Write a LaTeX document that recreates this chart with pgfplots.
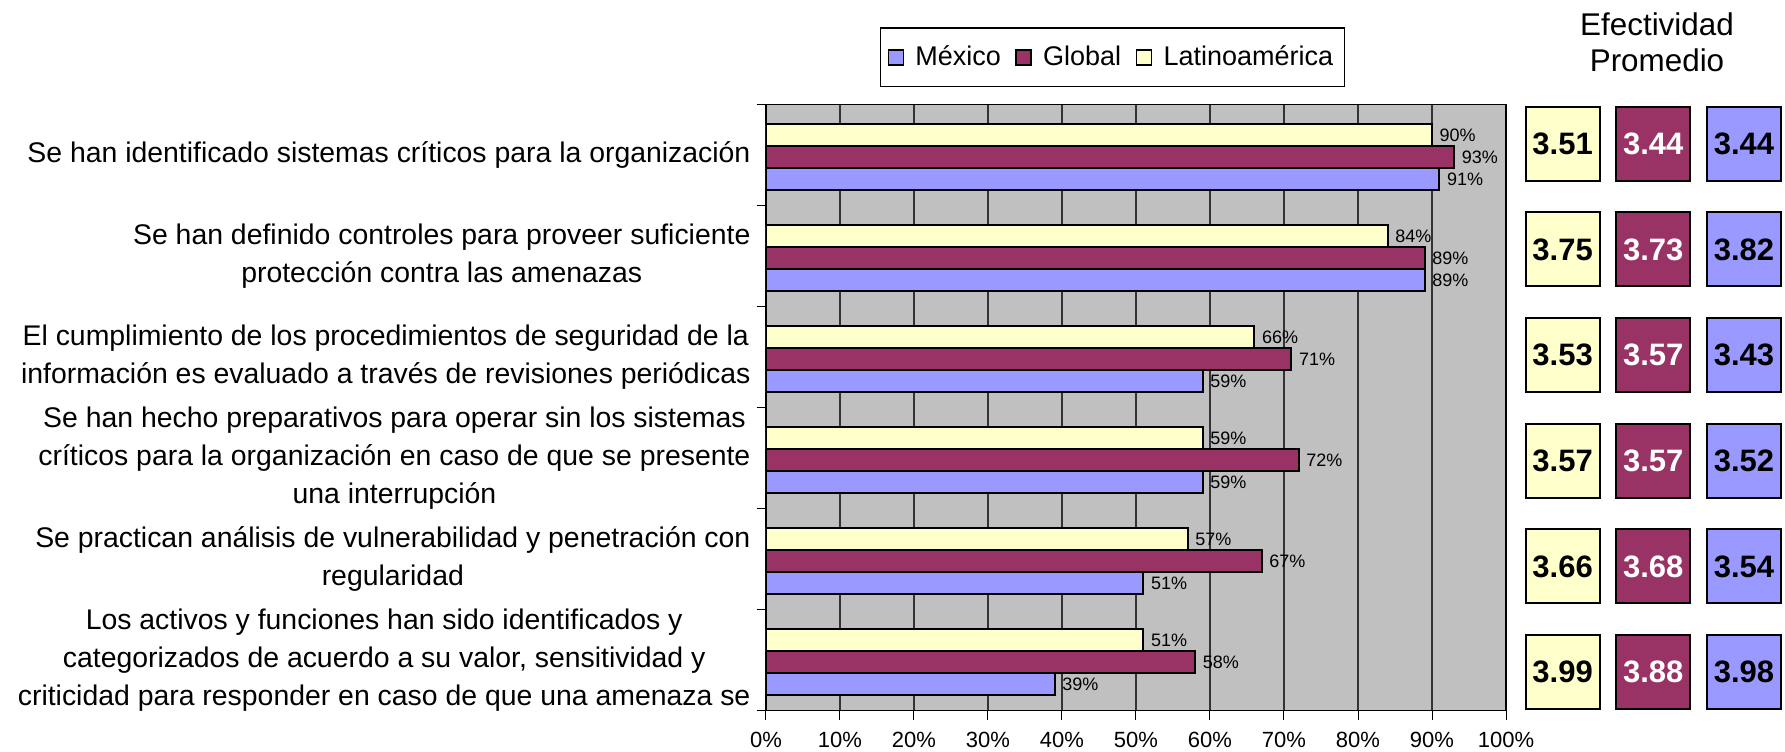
\documentclass[border=0pt]{standalone}
\usepackage{pgfplots}
\pgfplotsset{compat=1.18}
\usepackage{fontspec}
\setmainfont{Liberation Sans}
\definecolor{exblue}{HTML}{9999FF}
\definecolor{exmaroon}{HTML}{993366}
\definecolor{exyellow}{HTML}{FFFFCC}
\definecolor{exgray}{HTML}{C0C0C0}
\begin{document}
\begin{tikzpicture}
\useasboundingbox (0,0) rectangle (892.5pt,375.5pt);
\begin{axis}[
  at={(383pt,20.15pt)}, anchor=south west,
  scale only axis, width=370pt, height=303pt,
  xmin=0, xmax=100, ymin=-0.5, ymax=5.5,
  xbar,
  axis background/.style={fill=exgray},
  xtick={0,10,...,100},
  xticklabels={0\%,10\%,20\%,30\%,40\%,50\%,60\%,70\%,80\%,90\%,100\%},
  xticklabel style={font=\fontsize{11}{13}\selectfont, yshift=-2.5pt},
  xmajorgrids, grid style={black!80, line width=0.6pt},
  ytick={-0.5,0.5,...,5.5},
  yticklabels={,,,,,,},
  tick pos=left, tick align=outside, major tick length=4.5pt,
  tick style={black, line width=0.5pt},
  axis line style={black, line width=0.6pt},
  extra y ticks={5,4,3,2,1,0},
  extra y tick labels={{Se han identificado sistemas críticos para la organización},{Se han definido controles para proveer suficiente\\protección contra las amenazas},{El cumplimiento de los procedimientos de seguridad de la\\información es evaluado a través de revisiones periódicas},{Se han hecho preparativos para operar sin los sistemas\\críticos para la organización en caso de que se presente\\una interrupción},{Se practican análisis de vulnerabilidad y penetración con\\regularidad},{Los activos y funciones han sido identificados y\\categorizados de acuerdo a su valor, sensitividad y\\criticidad para responder en caso de que una amenaza se}},
  extra y tick style={major tick length=0pt},
  yticklabel style={align=center, font=\fontsize{14.2}{19}\selectfont, xshift=-4.25pt},
  /pgf/number format/assume math mode=true,
  nodes near coords={\pgfmathprintnumber{\pgfplotspointmeta}\%},
  every node near coord/.append style={font=\fontsize{9}{10}\selectfont, text=black},
  legend columns=3,
  legend style={at={(0.468,1.1277)}, anchor=north, draw=black, line width=0.6pt,
    font=\fontsize{13.5}{16}\selectfont, inner xsep=3.5pt, inner ysep=7pt,
    /tikz/every even column/.append style={column sep=5.25pt}},
  legend image code/.code={\draw[#1, line width=0.8pt] (0pt,-3.75pt) rectangle (7.5pt,3.75pt); \path (11pt,0pt);},
]
\addplot[xbar, bar width=0.218, bar shift=-0.236, fill=exblue, draw=black, line width=1pt]
  coordinates {(91,5) (89,4) (59,3) (59,2) (51,1) (39,0)};
\addlegendentry{México}
\addplot[xbar, bar width=0.218, bar shift=-0.018, fill=exmaroon, draw=black, line width=1pt]
  coordinates {(93,5) (89,4) (71,3) (72,2) (67,1) (58,0)};
\addlegendentry{Global}
\addplot[xbar, bar width=0.218, bar shift=0.2, fill=exyellow, draw=black, line width=1pt]
  coordinates {(90,5) (84,4) (66,3) (59,2) (57,1) (51,0)};
\addlegendentry{Latinoamérica}
\end{axis}
\begin{axis}[
  at={(758.65pt,13.05pt)}, anchor=south west,
  scale only axis, width=136pt, height=317pt,
  hide axis, clip=false,
  xmin=-0.5, xmax=2.5, ymin=-0.5, ymax=5.5,
  point meta=explicit symbolic,
  nodes near coords, nodes near coords align={center},
]
\addplot[draw=none, mark=none, every node near coord/.append style={anchor=center, fill=exyellow, draw=black, line width=1pt, minimum size=37pt, inner sep=0pt, font=\bfseries\fontsize{15.5}{18}\selectfont, text=black}]
  coordinates {(0,5) [3.51] (0,4) [3.75] (0,3) [3.53] (0,2) [3.57] (0,1) [3.66] (0,0) [3.99]};
\addplot[draw=none, mark=none, every node near coord/.append style={anchor=center, fill=exmaroon, draw=black, line width=1pt, minimum size=37pt, inner sep=0pt, font=\bfseries\fontsize{15.5}{18}\selectfont, text=white}]
  coordinates {(1,5) [3.44] (1,4) [3.73] (1,3) [3.57] (1,2) [3.57] (1,1) [3.68] (1,0) [3.88]};
\addplot[draw=none, mark=none, every node near coord/.append style={anchor=center, fill=exblue, draw=black, line width=1pt, minimum size=37pt, inner sep=0pt, font=\bfseries\fontsize{15.5}{18}\selectfont, text=black}]
  coordinates {(2,5) [3.44] (2,4) [3.82] (2,3) [3.43] (2,2) [3.52] (2,1) [3.54] (2,0) [3.98]};
\end{axis}
\node[anchor=base, font=\fontsize{15.7}{18}\selectfont, inner sep=0pt] at (828.5pt,357.65pt) {Efectividad};
\node[anchor=base, font=\fontsize{15.7}{18}\selectfont, inner sep=0pt] at (828.5pt,339.65pt) {Promedio};
\end{tikzpicture}
\end{document}
